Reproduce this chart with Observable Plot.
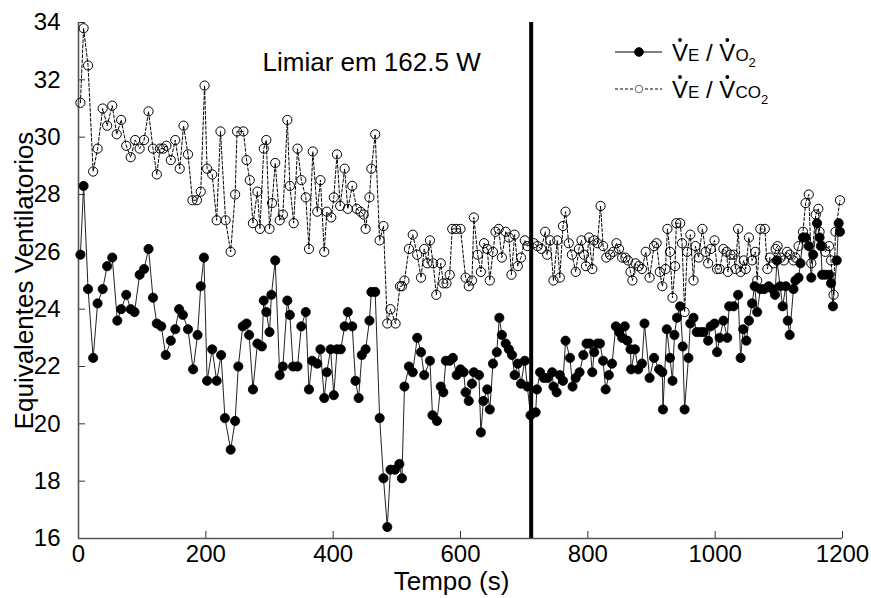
<!DOCTYPE html>
<html>
<head>
<meta charset="utf-8">
<script src="https://cdn.jsdelivr.net/npm/d3@7"></script>
<script src="https://cdn.jsdelivr.net/npm/@observablehq/plot@0.6"></script>
<style>
  html, body { margin: 0; padding: 0; background: #ffffff; }
  #chart { width: 871px; height: 598px; }
</style>
</head>
<body>
<div id="chart"></div>
<script>
// ---------- data ----------
const xTicks = [0, 200, 400, 600, 800, 1000, 1200];
const yTicks = [16, 18, 20, 22, 24, 26, 28, 30, 32, 34];
const xDomain = [0, 1200];
const yDomain = [16, 34];

const limiarTempo = [711];
const limiarLabel = "Limiar em 162.5 W";
const xLabel = "Tempo (s)";
const yLabel = "Equivalentes Ventilatorios";
const legendSubs = ["O", "CO"];

// VE/VO2 (filled markers, solid line)
const tVO2 = [
  3,8,15,23,30,38,45,53,61,67,
  75,82,88,96,103,110,117,123,130,137,
  145,152,158,164,172,180,187,192,197,202,
  210,217,224,230,239,246,251,258,264,268,
  274,281,288,291,295,300,303,309,316,321,
  328,332,337,344,350,357,362,367,375,380,
  386,390,396,401,406,412,418,423,430,435,
  440,445,451,457,460,466,473,479,485,490,
  497,504,508,512,519,525,532,538,543,552,
  556,563,569,573,577,583,588,594,600,605,
  608,613,618,621,629,632,636,642,646,651,
  657,661,665,671,676,681,685,690,695,701,
  705,710,718,720,725,731,737,744,746,751,
  756,761,765,772,776,781,787,793,798,803,
  807,810,815,819,824,828,833,838,844,849,
  854,858,862,867,868,874,879,885,889,897,
  904,912,917,918,924,929,933,936,940,945,
  949,952,958,961,966,971,977,982,989,993,
  999,1003,1007,1013,1019,1022,1029,1036,1040,1044,
  1049,1053,1058,1062,1066,1071,1077,1084,1090,1094,
  1097,1102,1106,1111,1114,1117,1123,1126,1131,1134,
  1138,1142,1147,1151,1154,1160,1164,1166,1168,1173,
  1179,1182,1185,1191,1194,1196
];
const vVO2 = [
  25.9,28.3,24.7,22.3,24.2,24.7,25.5,25.8,23.6,24.0,
  24.5,24.0,23.9,25.2,25.4,26.1,24.4,23.5,23.4,22.4,
  22.9,23.3,24.0,23.8,23.3,21.9,23.1,24.8,25.8,21.5,
  22.6,21.5,22.4,20.2,19.1,20.1,22.0,23.4,23.5,23.1,
  21.2,22.8,22.7,24.3,23.9,23.2,24.5,25.7,21.7,22.0,
  24.3,23.8,22.0,22.0,23.4,23.9,21.2,22.2,22.1,22.6,
  20.9,21.8,22.6,21.0,22.6,22.6,23.4,23.9,23.4,21.5,
  20.9,22.4,22.6,23.6,24.6,24.6,20.2,18.1,16.4,18.4,
  18.4,18.6,18.1,21.3,22.0,21.8,23.0,22.5,21.7,22.2,
  20.3,20.1,21.3,21.1,22.2,22.2,22.3,21.7,21.9,21.8,
  21.1,20.8,21.4,21.8,21.7,19.7,20.8,21.2,20.5,22.1,
  22.5,23.7,23.1,22.8,22.6,22.4,21.7,22.1,21.4,22.2,
  21.3,20.3,20.4,21.2,21.8,21.6,21.6,21.8,21.3,21.1,
  21.7,21.5,22.9,22.3,21.3,21.6,21.8,22.4,22.8,22.8,
  21.8,22.5,22.8,22.8,22.2,21.2,21.7,22.1,23.4,23.2,
  23.0,23.4,22.9,22.6,21.9,22.6,21.9,22.1,23.5,21.6,
  22.3,21.9,21.8,20.5,23.3,22.3,21.5,23.1,23.7,24.1,
  22.7,20.5,22.3,23.5,23.7,23.2,23.2,23.2,22.9,23.4,
  23.5,22.5,23.0,23.6,23.0,24.1,24.1,24.5,22.3,23.3,
  22.9,23.6,24.2,24.8,23.9,24.7,24.7,24.8,24.7,24.5,
  25.7,24.8,24.1,24.8,23.6,23.1,24.7,25.0,25.1,25.6,
  26.5,26.5,26.2,25.1,25.9,27.0,26.5,26.2,25.2,25.2,
  25.2,24.9,24.1,25.7,27.0,26.7
];

// VE/VCO2 (open markers, dashed line)
const tVCO2 = [
  3,8,15,23,30,38,45,53,60,67,
  75,82,89,96,103,110,117,123,128,133,
  138,145,152,159,165,172,179,186,192,198,
  202,210,217,223,231,239,246,249,259,264,
  269,274,281,285,291,295,300,304,309,316,
  321,328,332,338,344,350,357,362,368,375,
  380,386,390,397,401,406,411,418,423,430,
  437,443,448,451,457,460,466,473,479,485,
  490,498,505,508,512,519,525,532,538,543,
  548,552,557,562,569,573,578,583,587,593,
  600,608,613,618,621,627,632,637,642,646,
  651,655,660,665,671,676,680,685,690,695,
  701,705,715,721,727,733,736,741,746,752,
  756,761,765,770,775,781,786,790,794,797,
  802,807,810,815,820,824,829,835,840,845,
  849,854,859,863,867,870,875,880,885,891,
  897,904,908,913,917,922,925,929,933,937,
  939,945,948,952,956,961,966,969,974,980,
  985,989,993,999,1003,1007,1013,1018,1020,1024,
  1029,1032,1036,1040,1045,1048,1053,1058,1063,1066,
  1071,1078,1082,1086,1092,1095,1098,1103,1108,1113,
  1117,1123,1126,1131,1138,1142,1147,1151,1158,1162,
  1164,1168,1173,1179,1182,1186,1189,1196
];
const vVCO2 = [
  31.2,33.8,32.5,28.8,29.6,31.0,30.4,31.1,30.1,30.6,
  29.7,29.3,29.9,29.6,29.9,30.9,29.6,28.7,29.6,29.6,
  29.7,29.2,29.9,28.9,30.4,29.4,27.8,27.8,28.1,31.8,
  28.9,28.7,27.1,30.2,27.1,26.0,28.0,30.2,30.2,29.2,
  28.5,27.0,28.1,26.8,29.6,29.9,26.8,27.7,29.1,27.1,
  27.3,30.6,28.3,27.0,29.6,28.5,27.9,26.1,29.5,27.4,
  28.5,26.0,27.4,27.2,27.9,29.4,27.6,28.9,27.5,28.3,
  27.5,27.4,27.3,26.8,27.9,28.9,30.1,26.4,26.9,23.5,
  24.0,23.5,24.8,24.8,25.0,26.1,26.6,25.9,25.1,26.1,
  25.6,26.4,25.6,24.5,25.6,24.9,24.9,25.2,26.8,26.8,
  26.8,25.1,24.8,25.0,27.2,25.9,25.3,26.3,26.1,25.0,
  26.0,26.7,26.8,25.8,26.7,26.5,25.2,26.6,25.5,25.8,
  26.4,26.2,26.3,26.2,26.1,26.7,25.9,26.4,25.0,26.4,
  25.1,26.9,27.4,26.3,25.9,25.3,26.1,26.4,25.9,25.5,
  26.5,25.4,26.4,26.3,27.6,26.2,25.8,25.9,26.0,26.3,
  26.1,25.8,25.8,25.7,25.3,25.0,25.6,25.5,25.4,26.0,
  25.1,26.2,26.3,25.3,24.8,25.4,26.8,26.0,24.4,25.5,
  27.0,27.0,26.3,23.9,26.0,26.6,25.0,26.2,25.8,26.8,
  26.0,25.6,26.1,26.4,25.4,25.4,26.1,26.0,25.3,25.9,
  25.9,25.4,26.8,25.3,25.7,25.4,26.5,25.7,26.0,25.0,
  26.8,26.8,25.4,25.8,25.6,26.1,26.2,25.8,25.7,26.0,
  25.9,25.7,25.8,26.2,26.7,27.7,28.0,25.6,27.3,27.5,
  26.7,26.2,26.0,26.2,25.7,24.5,26.7,27.8
];

// ---------- build ----------
const zipSeries = (ts, vs) => ts.slice(0, Math.min(ts.length, vs.length)).map((t, i) => ({t, v: vs[i]}));
const dataVO2 = zipSeries(tVO2, vVO2);
const dataVCO2 = zipSeries(tVCO2, vVCO2);

const FONT = "'Liberation Sans', Arial, Helvetica, sans-serif";

const chart = Plot.plot({
  width: 871,
  height: 598,
  marginLeft: 78,
  marginRight: 29,
  marginTop: 22,
  marginBottom: 60,
  style: {fontFamily: FONT, fontSize: "24px", background: "#ffffff", color: "#000"},
  x: {domain: xDomain, label: null},
  y: {domain: yDomain, label: null},
  marks: [
    Plot.axisX({ticks: xTicks, tickSize: -7, tickPadding: 13, tickFormat: d3.format("d"), fontSize: 24, stroke: "#333", label: null}),
    Plot.axisY({ticks: yTicks, tickSize: -7, tickPadding: 25, tickFormat: d3.format("d"), fontSize: 24, stroke: "#333", label: null}),
    Plot.ruleY([yDomain[0]], {stroke: "#555", strokeWidth: 1.6}),
    Plot.ruleX([xDomain[0]], {stroke: "#555", strokeWidth: 1.6}),
    // VE/VO2
    Plot.line(dataVO2, {x: "t", y: "v", stroke: "#222", strokeWidth: 1}),
    Plot.dot(dataVO2, {x: "t", y: "v", r: 4.6, fill: "#000", stroke: "#000", strokeWidth: 0.8}),
    // VE/VCO2
    Plot.line(dataVCO2, {x: "t", y: "v", stroke: "#000", strokeWidth: 1, strokeDasharray: "3,2"}),
    Plot.dot(dataVCO2, {x: "t", y: "v", r: 4.6, fill: "none", stroke: "#000", strokeWidth: 1}),
    // threshold
    Plot.ruleX(limiarTempo, {stroke: "#000", strokeWidth: 4}),
    Plot.text([limiarLabel], {frameAnchor: "top-left", dx: 184, dy: 40, textAnchor: "start", lineAnchor: "middle", fontSize: 26, fill: "#000"}),
    // axis titles
    Plot.text([xLabel], {frameAnchor: "bottom", dx: -9, dy: 43, textAnchor: "middle", lineAnchor: "middle", fontSize: 26, fill: "#000"}),
    Plot.text([yLabel], {frameAnchor: "left", dx: -54, rotate: -90, textAnchor: "middle", lineAnchor: "middle", fontSize: 26, fill: "#000"})
  ]
});

document.getElementById("chart").appendChild(chart);

// ---------- legend ----------
const svg = d3.select(chart);
const lg = svg.append("g").attr("font-family", FONT).attr("fill", "#000").attr("text-anchor", "start");

function legendRow(y, dashed, filled, sub) {
  lg.append("line")
    .attr("x1", 615).attr("x2", 662).attr("y1", y).attr("y2", y)
    .attr("stroke", "#000").attr("stroke-width", 1)
    .attr("stroke-dasharray", dashed ? "3,2" : null);
  lg.append("circle")
    .attr("cx", 639).attr("cy", y).attr("r", filled ? 4.3 : 3.8)
    .attr("fill", filled ? "#000" : "#fff").attr("stroke", filled ? "#000" : "#666").attr("stroke-width", 1);
  const text = lg.append("text").attr("x", 672).attr("y", y + 9).attr("font-size", 24).attr("text-anchor", "start");
  text.append("tspan").text("V");
  text.append("tspan").attr("font-size", 17).text("E");
  text.append("tspan").text(" / V");
  text.append("tspan").attr("font-size", 17).text(sub);
  text.append("tspan").attr("font-size", 13).attr("dy", 6).text("2");
  const node = text.node();
  [0, 5].forEach(ci => {
    const ext = node.getExtentOfChar(ci);
    lg.append("circle")
      .attr("cx", ext.x + ext.width / 2)
      .attr("cy", y + 9 - 21)
      .attr("r", 1.9)
      .attr("fill", "#000");
  });
}
legendRow(52, false, true, legendSubs[0]);
legendRow(89, true, false, legendSubs[1]);
</script>
</body>
</html>
